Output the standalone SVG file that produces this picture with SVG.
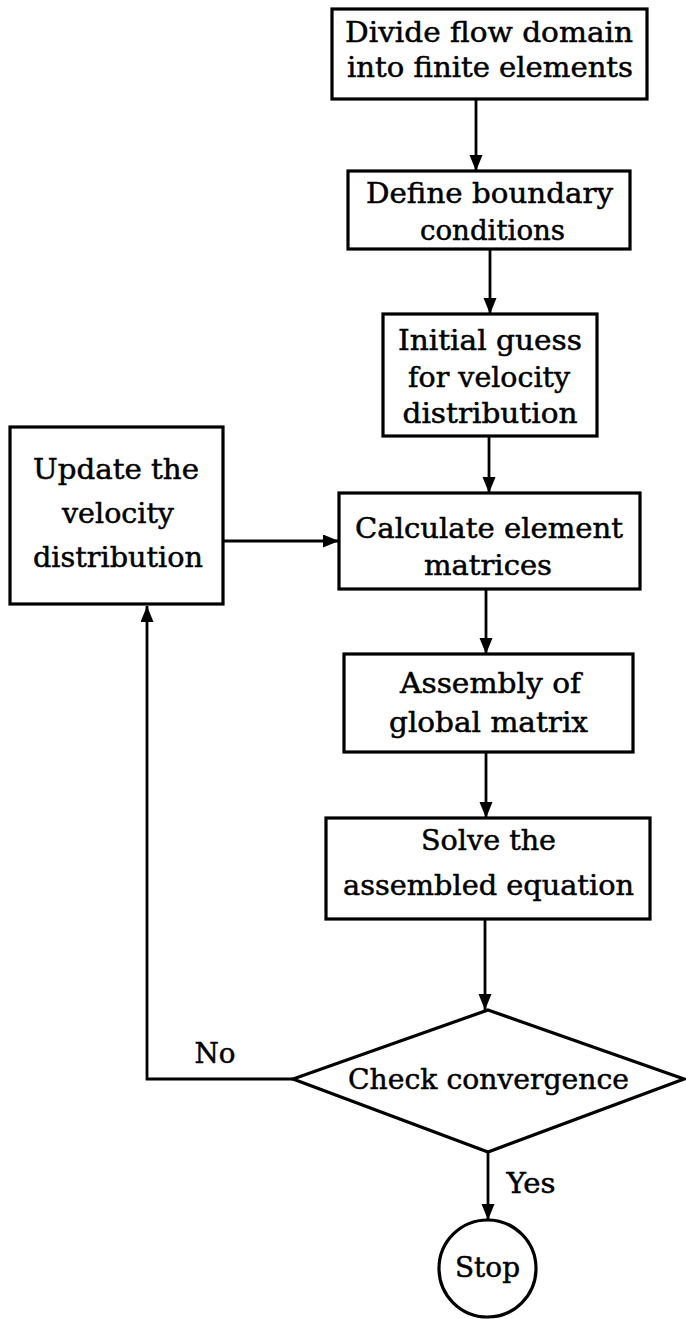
<svg xmlns="http://www.w3.org/2000/svg" width="686" height="1319" viewBox="0 0 686 1319">
<style>
.box{fill:#fff;stroke:#000;stroke-width:3.2}
.ln{fill:none;stroke:#000;stroke-width:2.8}
text{font-family:"DejaVu Serif","Liberation Serif",serif;font-size:28px;fill:#000;stroke:#000;stroke-width:0.5;text-anchor:middle}
</style>
<defs>
<marker id="ah" markerUnits="userSpaceOnUse" markerWidth="16" markerHeight="14" refX="16" refY="6.5" orient="auto">
<path d="M0,0 L16,6.5 L0,13 Z" fill="#000"/>
</marker>
</defs>
<rect width="686" height="1319" fill="#fff"/>
<g id="connectors">
<path class="ln" d="M476,100 L476,171" marker-end="url(#ah)"/>
<path class="ln" d="M490,249 L490,314" marker-end="url(#ah)"/>
<path class="ln" d="M489,436 L489,493" marker-end="url(#ah)"/>
<path class="ln" d="M486,589 L486,654" marker-end="url(#ah)"/>
<path class="ln" d="M486,752 L486,818" marker-end="url(#ah)"/>
<path class="ln" d="M485,919 L485,1010" marker-end="url(#ah)"/>
<path class="ln" d="M488,1152 L488,1220" marker-end="url(#ah)"/>
<path class="ln" d="M223,541 L339,541" marker-end="url(#ah)"/>
<path class="ln" d="M293,1079 L147,1079 L147,606" marker-end="url(#ah)"/>
<text x="215" y="1063" textLength="41" lengthAdjust="spacingAndGlyphs">No</text>
<text x="531" y="1193" textLength="49" lengthAdjust="spacingAndGlyphs">Yes</text>
</g>
<g id="n1">
<rect class="box" x="332" y="9" width="315" height="90"/>
<text x="489" y="42" textLength="288" lengthAdjust="spacingAndGlyphs">Divide flow domain</text>
<text x="490" y="77" textLength="286" lengthAdjust="spacingAndGlyphs">into finite elements</text>
</g>
<g id="n2">
<rect class="box" x="348" y="171" width="282" height="78"/>
<text x="489.5" y="203" textLength="247" lengthAdjust="spacingAndGlyphs">Define boundary</text>
<text x="492.5" y="240" textLength="145" lengthAdjust="spacingAndGlyphs">conditions</text>
</g>
<g id="n3">
<rect class="box" x="383" y="314" width="214" height="122"/>
<text x="490" y="350" textLength="184" lengthAdjust="spacingAndGlyphs">Initial guess</text>
<text x="489" y="387" textLength="162" lengthAdjust="spacingAndGlyphs">for velocity</text>
<text x="490" y="423" textLength="175" lengthAdjust="spacingAndGlyphs">distribution</text>
</g>
<g id="n4">
<rect class="box" x="10" y="427" width="213" height="177"/>
<text x="116" y="479" textLength="166" lengthAdjust="spacingAndGlyphs">Update the</text>
<text x="118" y="523" textLength="112" lengthAdjust="spacingAndGlyphs">velocity</text>
<text x="118" y="567" textLength="170" lengthAdjust="spacingAndGlyphs">distribution</text>
</g>
<g id="n5">
<rect class="box" x="339" y="493" width="301" height="96"/>
<text x="489" y="538" textLength="268" lengthAdjust="spacingAndGlyphs">Calculate element</text>
<text x="488" y="575" textLength="128" lengthAdjust="spacingAndGlyphs">matrices</text>
</g>
<g id="n6">
<rect class="box" x="344" y="654" width="289" height="98"/>
<text x="490.5" y="693" textLength="181" lengthAdjust="spacingAndGlyphs">Assembly of</text>
<text x="488.5" y="732" textLength="199" lengthAdjust="spacingAndGlyphs">global matrix</text>
</g>
<g id="n7">
<rect class="box" x="326" y="818" width="324" height="101"/>
<text x="488.5" y="850" textLength="135" lengthAdjust="spacingAndGlyphs">Solve the</text>
<text x="488.5" y="895" textLength="291" lengthAdjust="spacingAndGlyphs">assembled equation</text>
</g>
<g id="n8">
<polygon class="box" points="488,1010 684,1079 488,1152 293,1079"/>
<text x="488.5" y="1089" textLength="281" lengthAdjust="spacingAndGlyphs">Check convergence</text>
</g>
<g id="n9">
<circle class="box" cx="487.5" cy="1268.5" r="48.5"/>
<text x="487.5" y="1277" textLength="65" lengthAdjust="spacingAndGlyphs">Stop</text>
</g>
</svg>
